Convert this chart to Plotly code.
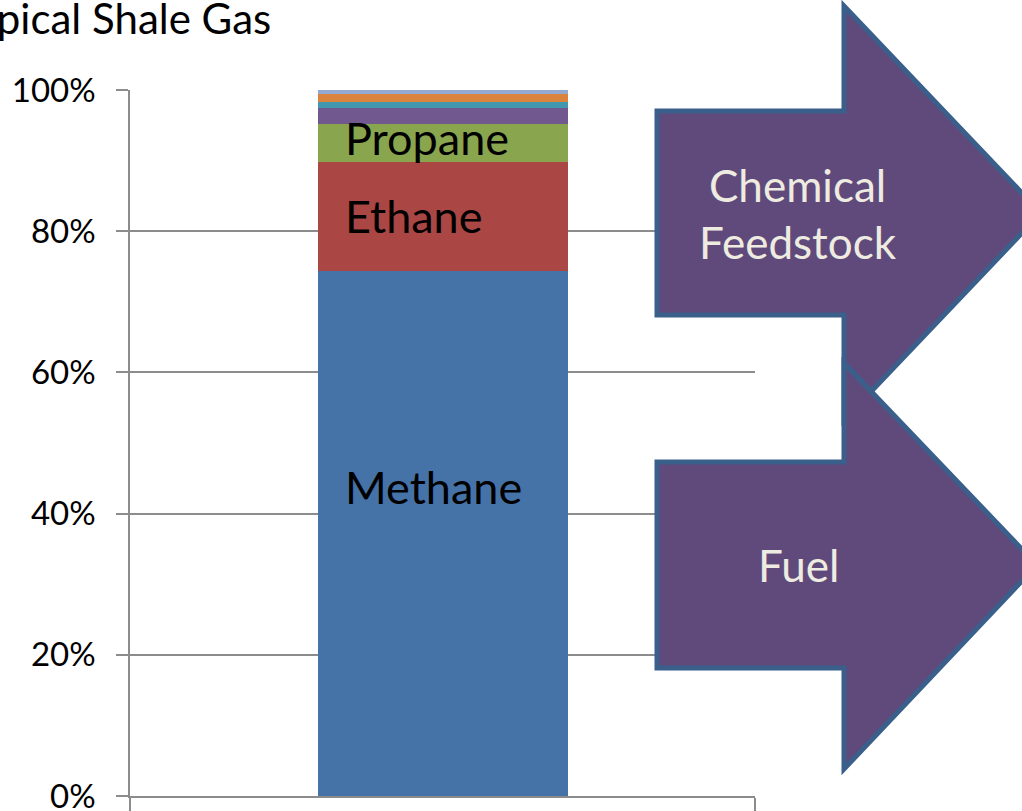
import plotly.graph_objects as go

# ---- data ----
components = ["Methane", "Ethane", "Propane", "Butane", "Pentanes+", "CO2", "N2"]
shares = [74.3, 15.5, 5.4, 2.2, 0.9, 1.2, 0.5]
colors = ["#4572A7", "#AA4643", "#89A54E", "#71588F", "#4198AF", "#DB843D", "#93A9CF"]
labelled = ["Methane", "Ethane", "Propane"]
label_y = [43.8, 82.1, 93.2]
tick_vals = [0, 20, 40, 60, 80, 100]
tick_text = ["0%", "20%", "40%", "60%", "80%", "100%"]
title_text = "Typical Shale Gas"
arrow_texts = ["Chemical<br>Feedstock", "Fuel"]

W, H = 1022, 811
L, R, T, B = 130, 755, 90, 796
BAR_W = 0.4

fig = go.Figure()
for name, val, col in zip(components, shares, colors):
    fig.add_trace(go.Bar(x=[0], y=[val], name=name, marker=dict(color=col, line=dict(width=0)),
                         width=BAR_W, hoverinfo="name+y"))

fig.update_layout(
    template="none",
    barmode="stack",
    width=W, height=H,
    margin=dict(l=L, r=W - R, t=T, b=H - B, pad=0, autoexpand=False),
    plot_bgcolor="white", paper_bgcolor="white",
    showlegend=False,
    font=dict(family="Lato", color="black"),
)
fig.update_xaxes(range=[-0.5, 0.5], tickvals=[-0.5, 0.5], ticktext=["", ""], ticks="outside",
                 ticklen=15, tickcolor="#8c8c8c", tickwidth=1.5, showgrid=False, automargin=False,
                 showline=True, linecolor="#8c8c8c", linewidth=1.5, zeroline=False)
fig.update_yaxes(range=[0, 100], tickvals=tick_vals, ticktext=tick_text, ticks="outside", ticklen=12,
                 tickcolor="#8c8c8c", tickwidth=1.5, showgrid=True, gridcolor="#8c8c8c", gridwidth=1.5,
                 showline=True, linecolor="#8c8c8c", linewidth=1.5, zeroline=False, automargin=False,
                 ticklabeloverflow="allow",
                 tickfont=dict(family="Lato", size=33, color="black"), ticklabelstandoff=14)

# data labels inside the bar, left aligned
for name, yv in zip(labelled, label_y):
    fig.add_annotation(x=-BAR_W / 2 + 0.04, y=yv, xref="x", yref="y", text=name, showarrow=False,
                       xanchor="left", yanchor="middle", font=dict(family="Lato", size=45, color="black"))

# title (cut off on the left as in the original)
fig.add_annotation(x=(273 - L) / (R - L), y=(B - 18) / (B - T), xref="paper", yref="paper",
                   text=title_text, showarrow=False, xanchor="right", yanchor="middle",
                   font=dict(family="Lato", size=42, color="black"))

def px(xp):
    return (xp - L) / (R - L)

def py(yp):
    return (B - yp) / (B - T)

def arrow_path(x0, xb, xt, by0, by1, hy0, hy1):
    cy = (by0 + by1) / 2
    pts = [(x0, by0), (xb, by0), (xb, hy0), (xt, cy), (xb, hy1), (xb, by1), (x0, by1)]
    return "M " + " L ".join(f"{px(a):.5f},{py(b):.5f}" for a, b in pts) + " Z"

arrows = [
    (657, 844, 1041, 111, 315, 6, 420),
    (657, 844, 1037, 462, 668, 363, 769),
]
for (x0, xb, xt, by0, by1, hy0, hy1), txt in zip(arrows, arrow_texts):
    fig.add_shape(type="path", path=arrow_path(x0, xb, xt, by0, by1, hy0, hy1), xref="paper", yref="paper",
                  fillcolor="#604A7B", line=dict(color="#3A5F8B", width=5), layer="above")
    fig.add_annotation(x=px(798), y=py((by0 + by1) / 2), xref="paper", yref="paper", text=txt,
                       showarrow=False, xanchor="center", yanchor="middle",
                       font=dict(family="Lato", size=44, color="#EEECE1"))

fig.write_html("out.html", config={"displayModeBar": False},
               post_script="document.body.style.margin='0';document.body.style.overflow='hidden';")
